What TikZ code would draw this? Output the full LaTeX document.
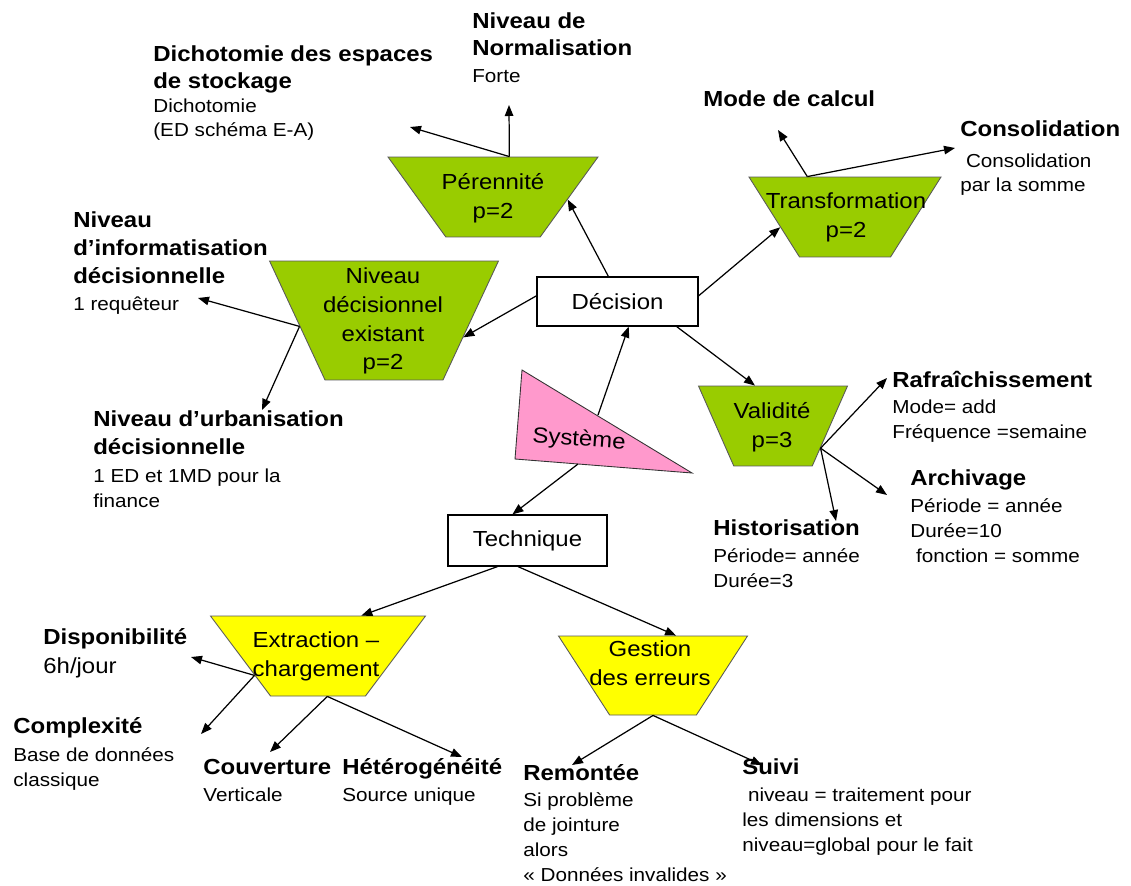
\documentclass[tikz,border=0pt]{standalone}
\usepackage{fontspec}
\setmainfont[FakeStretch=1.1]{Liberation Sans}
\usepackage{tikz}
\usetikzlibrary{shapes,arrows.meta,positioning}
\definecolor{trapgreen}{RGB}{153,204,0}
\definecolor{trapyellow}{RGB}{255,255,0}
\definecolor{syspink}{RGB}{255,153,204}
\newcommand{\leafhead}{\fontsize{12.4}{15.9}\selectfont\bfseries}
\newcommand{\leafbody}{\fontsize{10.7}{14.2}\selectfont}
\newcommand{\trapfont}{\fontsize{12.4}{16.4}\selectfont}

\begin{document}
\begin{tikzpicture}[x=0.02cm, y=-0.02cm, >={Triangle[length=0.22cm,width=0.17cm]},
  trap/.style={trapezium, trapezium stretches=true, shape border rotate=180, draw=black!65, line width=0.5pt, inner sep=1pt},
  trapgr/.style={trap, fill=trapgreen},
  trapye/.style={trap, fill=trapyellow},
  traptext/.style={align=center, font=\trapfont, inner sep=0pt},
  box/.style={rectangle, draw, line width=0.7pt, font=\trapfont},
  head/.style={anchor=base west, align=left, inner sep=0pt, font=\leafhead},
  body/.style={anchor=base west, align=left, inner sep=0pt, font=\leafbody},
  conn/.style={->, line width=0.7pt}]
\useasboundingbox (0,0) rectangle (1131,885);

% Centre boxes
\node[box, minimum width=3.22cm, minimum height=0.98cm] (dec) at (617.5,301.5) {Décision};
\node[box, minimum width=3.18cm, minimum height=1.02cm] (tech) at (527.5,540.5) {Technique};

% Systeme triangle
\draw[fill=syspink, draw=black!80, line width=0.5pt] (522,370) -- (515,459) -- (692,473) -- cycle;
\node[font=\trapfont, rotate=-4] (sys) at (579,440) {Système};
\coordinate (sysup) at (598,415);
\coordinate (sysdn) at (578,464);

% Decision side
\node[trapgr, minimum width=4.2cm, minimum height=1.6cm, trapezium angle=58.5] (per) at (493,197) {};
\node[traptext] (pertxt) at (493,198) {Pérennité\\p=2};
\node[trapgr, minimum width=3.84cm, minimum height=1.6cm, trapezium angle=61] (trans) at (845,217) {};
\node[traptext] (transtxt) at (846,217) {Transformation\\p=2};
\node[trapgr, minimum width=4.58cm, minimum height=2.38cm, trapezium angle=64.8] (niv) at (384,320.5) {};
\node[traptext] (nivtxt) at (383,321) {Niveau\\décisionnel\\existant\\p=2};
\node[trapgr, minimum width=2.98cm, minimum height=1.6cm, trapezium angle=65.8] (val) at (773,426) {};
\node[traptext] (valtxt) at (772,427) {Validité\\p=3};

% Technique side
\node[trapye, minimum width=4.3cm, minimum height=1.6cm, trapezium angle=57.7] (extr) at (318,656) {};
\node[traptext] (extrtxt) at (316,656) {Extraction –\\chargement};
\node[trapye, minimum width=3.78cm, minimum height=1.58cm, trapezium angle=59.5] (gest) at (653,675.5) {};
\node[traptext] (gesttxt) at (650,663) {Gestion\\des erreurs};

% Main connectors
\draw[conn] (sysup) -- (dec.294);
\draw[conn] (sysdn) -- (tech.120);
\draw[conn] (dec.110) -- (per.358);
\draw[conn] (dec.176) -- (niv.348);
\draw[conn] (dec.4) -- (trans.189);
\draw[conn] (dec.337) -- (val.114);
\draw[conn] (tech.221) -- (extr.43);
\draw[conn] (tech.250) -- (gest.60);

% Leaf texts (base = last line)
\node[head] (dichoH) at (153,89) {Dichotomie des espaces\\de stockage};
\node[body] (dichoB) at (153,137) {Dichotomie\\(ED schéma E-A)};
\node[head] (normH) at (472,56) {Niveau de\\Normalisation};
\node[body] (normB) at (472,83) {Forte};
\node[head] (modeH) at (703,107) {Mode de calcul};
\node[head] (consoH) at (960,137) {Consolidation};
\node[body] (consoB) at (960,192) {\hspace*{0.3em}Consolidation\\par la somme};
\node[head] (infoH) at (73,283) {Niveau\\d’informatisation\\décisionnelle};
\node[body] (infoB) at (73,310) {1 requêteur};
\node[head] (urbaH) at (93,454) {Niveau d’urbanisation\\décisionnelle};
\node[body] (urbaB) at (93,507) {1 ED et 1MD pour la\\finance};
\node[head] (rafrH) at (892,387) {Rafraîchissement};
\node[body] (rafrB) at (892,438) {Mode= add\\Fréquence =semaine};
\node[head] (archH) at (910,485) {Archivage};
\node[body] (archB) at (910,562) {Période = année\\Durée=10\\\hspace*{0.3em}fonction = somme};
\node[head] (histH) at (713,535) {Historisation};
\node[body] (histB) at (713,587) {Période= année\\Durée=3};
\node[head] (dispoH) at (43,644) {Disponibilité};
\node[body, font=\trapfont] (dispoB) at (43,673) {6h/jour};
\node[head] (complH) at (13,733) {Complexité};
\node[body] (complB) at (13,786) {Base de données\\classique};
\node[head] (couvH) at (203,774) {Couverture};
\node[body] (couvB) at (203,801) {Verticale};
\node[head] (hetH) at (342,774) {Hétérogénéité};
\node[body] (hetB) at (342,801) {Source unique};
\node[head] (remH) at (523,780) {Remontée};
\node[body] (remB) at (523,881) {Si problème\\de jointure\\alors\\« Données invalides »};
\node[head] (suiviH) at (742,774) {Suivi};
\node[body] (suiviB) at (742,851) {\hspace*{0.3em}niveau = traitement pour\\les dimensions et\\niveau=global pour le fait};

% Leaf arrow ends
\coordinate (toDicho) at (410,127);
\coordinate (toNorm) at (509,105);
\coordinate (toMode) at (778,130);
\coordinate (toConso) at (955,148);
\coordinate (toInfo) at (198,298);
\coordinate (toUrba) at (262,410);
\coordinate (toRafr) at (887,378);
\coordinate (toArch) at (887,495);
\coordinate (toHist) at (836,521);
\coordinate (toDispo) at (191,657);
\coordinate (toCompl) at (201,734);
\coordinate (toCouv) at (270,752);
\coordinate (toHetero) at (462,757);
\coordinate (toRemont) at (572,765);
\coordinate (toSuivi) at (762,765);

% Leaf connectors
\draw[conn] (per.68) -- (toDicho);
\draw[conn] (per.68) -- (toNorm);
\draw[conn] (trans.133) -- (toMode);
\draw[conn] (trans.133) -- (toConso);
\draw[conn] (niv.184) -- (toInfo);
\draw[conn] (niv.184) -- (toUrba);
\draw[conn] (val.335) -- (toRafr);
\draw[conn] (val.335) -- (toArch);
\draw[conn] (val.335) -- (toHist);
\draw[conn] (extr.197) -- (toDispo);
\draw[conn] (extr.197) -- (toCompl);
\draw[conn] (extr.283) -- (toCouv);
\draw[conn] (extr.283) -- (toHetero);
\draw[conn] (gest.south) -- (toRemont);
\draw[conn] (gest.south) -- (toSuivi);
\end{tikzpicture}
\end{document}
